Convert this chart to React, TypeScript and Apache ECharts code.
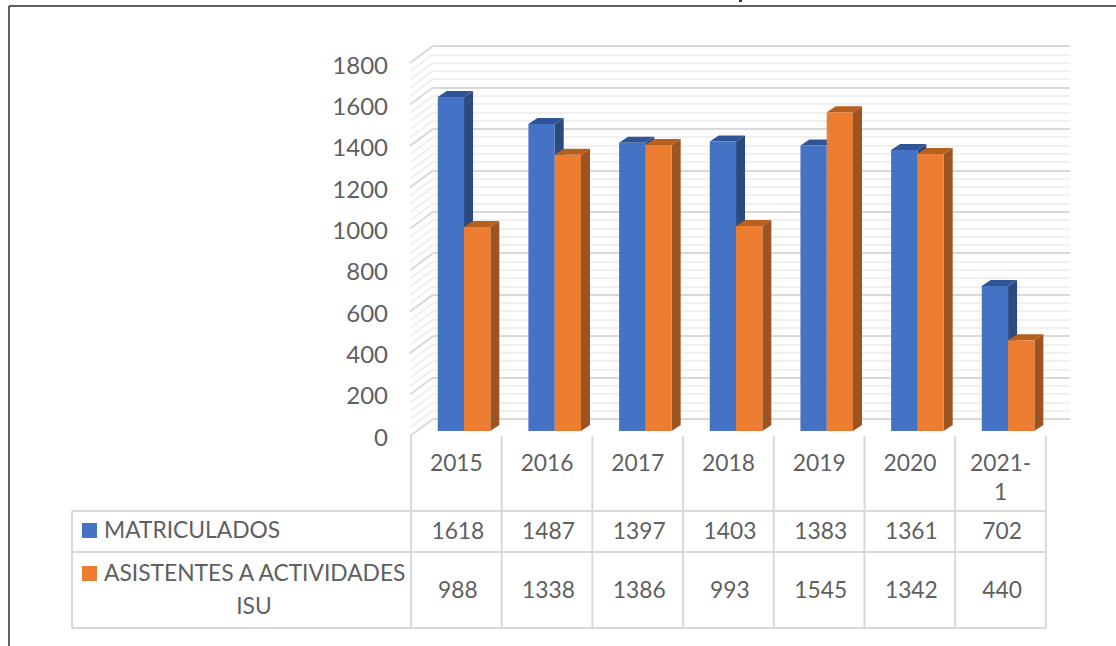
import React, { useEffect, useRef } from "react";
import * as echarts from "echarts";

const categories = ["2015", "2016", "2017", "2018", "2019", "2020", "2021-\n1"];
const matriculados = [1618, 1487, 1397, 1403, 1383, 1361, 702];
const asistentes = [988, 1338, 1386, 993, 1545, 1342, 440];
const seriesNames = ["MATRICULADOS", "ASISTENTES A ACTIVIDADES", "ISU"];
const wallStep = 40;
const axisMax = 1800;
const axisStep = 200;

const FONT = "Lato";
const TEXT = "#5f5f5f";
const GRID = "#d9d9d9";
const MINOR = "#f0f0f0";
const DEPTH_X = 9;
const DEPTH_Y = 6;

const wallTicks: number[][] = [];
for (let v = 0; v <= axisMax; v += wallStep) wallTicks.push([0, v]);

function barSeries(name: string, values: number[], side: number, front: string, top: string, right: string, z: number) {
  return {
    type: "custom",
    name,
    xAxisIndex: 1,
    yAxisIndex: 1,
    z,
    clip: false,
    silent: true,
    data: values.map((v, i) => [i, v]),
    renderItem: (_p: any, api: any) => {
      const i = api.value(0);
      const [cx, yTop] = api.coord([i, api.value(1)]);
      const [, yBase] = api.coord([i, 0]);
      const w = api.size([1, 0])[0] * 0.29;
      const x0 = side < 0 ? cx - w : cx;
      const x1 = x0 + w;
      return {
        type: "group",
        children: [
          {
            type: "polygon",
            shape: { points: [[x1, yTop], [x1 + DEPTH_X, yTop - DEPTH_Y], [x1 + DEPTH_X, yBase - DEPTH_Y], [x1, yBase]] },
            style: { fill: right },
          },
          {
            type: "polygon",
            shape: { points: [[x0, yTop], [x1, yTop], [x1 + DEPTH_X, yTop - DEPTH_Y], [x0 + DEPTH_X, yTop - DEPTH_Y]] },
            style: { fill: top },
          },
          { type: "rect", shape: { x: x0, y: yTop, width: w, height: yBase - yTop }, style: { fill: front } },
        ],
      };
    },
  };
}

const line = (x1: number, y1: number, x2: number, y2: number, stroke = GRID, lineWidth = 2) => ({
  type: "line",
  shape: { x1, y1, x2, y2 },
  style: { stroke, lineWidth },
  silent: true,
});

const label = (text: string, x: number, y: number, textAlign = "center") => ({
  type: "text",
  x,
  y,
  silent: true,
  style: { text, fill: TEXT, fontFamily: FONT, fontSize: 22.8, textAlign, textVerticalAlign: "middle" },
});

function tableGraphics() {
  const left = 411;
  const band = 90.7;
  const els: any[] = [];
  // page frame
  els.push(line(9, 6, 9, 646, "#2b2b2b", 1.5));
  els.push(line(9, 6, 1116, 6, "#2b2b2b", 1.5));
  els.push({ type: "rect", shape: { x: 739, y: 0, width: 3, height: 2 }, style: { fill: "#333" }, silent: true });
  // table rules
  for (let i = 0; i <= categories.length; i++) {
    const x = left + i * band;
    els.push(line(x, 436, x, 628));
  }
  els.push(line(72, 511, 72, 628));
  [511, 552, 628].forEach((y) => els.push(line(72, y, left + 7 * band, y)));
  // table values
  matriculados.forEach((v, i) => els.push(label(String(v), left + (i + 0.5) * band + 1.5, 530)));
  asistentes.forEach((v, i) => els.push(label(String(v), left + (i + 0.5) * band + 1.5, 589)));
  // legend keys
  els.push({ type: "rect", shape: { x: 82, y: 523, width: 15, height: 15 }, style: { fill: "#4472c4" }, silent: true });
  els.push({ type: "rect", shape: { x: 82, y: 566, width: 15, height: 15 }, style: { fill: "#ed7d31" }, silent: true });
  els.push(label(seriesNames[0], 104, 529, "left"));
  els.push(label(seriesNames[1], 104, 572, "left"));
  els.push(label(seriesNames[2], 254, 605));
  return els;
}

export default function App() {
  const ref = useRef<HTMLDivElement>(null);
  useEffect(() => {
    const chart = echarts.init(ref.current!, undefined, { renderer: "svg" });
    chart.setOption({
      animation: false,
      backgroundColor: "#ffffff",
      grid: [
        // front plane: carries the tick labels
        { left: 411, top: 64, width: 635, height: 372 },
        // bar plane
        { left: 418.7, top: 59.5, width: 634.7, height: 371.5 },
        // back wall
        { left: 433, top: 46, width: 637, height: 373 },
      ],
      xAxis: [
        {
          gridIndex: 0,
          type: "category",
          data: categories,
          axisLine: { show: false },
          axisTick: { show: false },
          axisLabel: { color: TEXT, fontFamily: FONT, fontSize: 22.8, margin: 11, lineHeight: 29, verticalAlign: "top", interval: 0 },
        },
        { gridIndex: 1, type: "category", data: categories, show: false },
        { gridIndex: 2, type: "value", min: 0, max: 1, show: false, splitLine: { show: false } },
      ],
      yAxis: [
        {
          gridIndex: 0,
          type: "value",
          min: 0,
          max: axisMax,
          interval: axisStep,
          axisLine: { show: false },
          axisTick: { show: false },
          splitLine: { show: false },
          axisLabel: { color: TEXT, fontFamily: FONT, fontSize: 24, margin: 23, formatter: (v: number) => String(v) },
        },
        { gridIndex: 1, type: "value", min: 0, max: axisMax, interval: axisStep, show: false, splitLine: { show: false } },
        {
          gridIndex: 2,
          type: "value",
          min: 0,
          max: axisMax,
          interval: axisStep,
          axisLine: { show: false },
          axisTick: { show: false },
          axisLabel: { show: false },
          minorTick: { show: false, splitNumber: 5 },
          splitLine: { show: true, lineStyle: { color: GRID, width: 2 } },
          minorSplitLine: { show: true, lineStyle: { color: MINOR, width: 2 } },
        },
      ],
      series: [
        {
          type: "custom",
          name: "pared",
          xAxisIndex: 2,
          yAxisIndex: 2,
          z: 1,
          clip: false,
          silent: true,
          data: wallTicks,
          renderItem: (_p: any, api: any) => {
            const v = api.value(1);
            const [x, y] = api.coord([0, v]);
            return {
              type: "line",
              shape: { x1: x, y1: y, x2: x - 23, y2: y + 17 },
              style: { stroke: v % axisStep === 0 ? GRID : MINOR, lineWidth: 2 },
            };
          },
        },
        barSeries(seriesNames[0], matriculados, -1, "#4472c4", "#2f5597", "#2a4a80", 3),
        barSeries(seriesNames[1] + " " + seriesNames[2], asistentes, 1, "#ed7d31", "#b5601f", "#9c5420", 4),
      ],
      graphic: { elements: tableGraphics() },
    });
    return () => chart.dispose();
  }, []);
  return <div ref={ref} style={{ position: "absolute", left: 0, top: 0, width: 1116, height: 646 }} />;
}
